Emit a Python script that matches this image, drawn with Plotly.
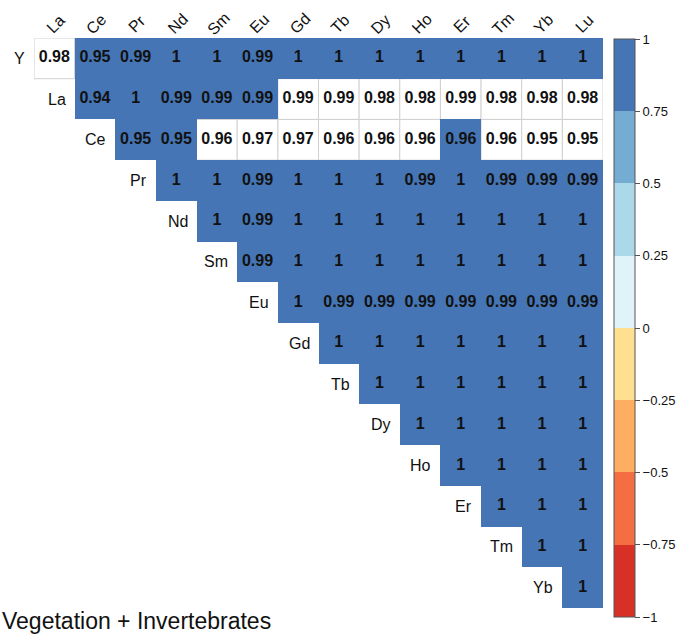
import plotly.graph_objects as go

# Correlation matrix (upper triangle) of Y and the rare earth elements
row_labels = ["Y", "La", "Ce", "Pr", "Nd", "Sm", "Eu", "Gd", "Tb", "Dy", "Ho", "Er", "Tm", "Yb"]
col_labels = ["La", "Ce", "Pr", "Nd", "Sm", "Eu", "Gd", "Tb", "Dy", "Ho", "Er", "Tm", "Yb", "Lu"]

# Each row r holds the coefficients for columns r .. Lu
corr_Y = [0.98, 0.95, 0.99, 1, 1, 0.99, 1, 1, 1, 1, 1, 1, 1, 1]
corr_La = [0.94, 1, 0.99, 0.99, 0.99, 0.99, 0.99, 0.98, 0.98, 0.99, 0.98, 0.98, 0.98]
corr_Ce = [0.95, 0.95, 0.96, 0.97, 0.97, 0.96, 0.96, 0.96, 0.96, 0.96, 0.95, 0.95]
corr_Pr = [1, 1, 0.99, 1, 1, 1, 0.99, 1, 0.99, 0.99, 0.99]
corr_Nd = [1, 0.99, 1, 1, 1, 1, 1, 1, 1, 1]
corr_Sm = [0.99, 1, 1, 1, 1, 1, 1, 1, 1]
corr_Eu = [1, 0.99, 0.99, 0.99, 0.99, 0.99, 0.99, 0.99]
corr_Gd = [1, 1, 1, 1, 1, 1, 1]
corr_Tb = [1, 1, 1, 1, 1, 1]
corr_Dy = [1, 1, 1, 1, 1]
corr_Ho = [1, 1, 1, 1]
corr_Er = [1, 1, 1]
corr_Tm = [1, 1]
corr_Yb = [1]

rows = [corr_Y, corr_La, corr_Ce, corr_Pr, corr_Nd, corr_Sm, corr_Eu,
        corr_Gd, corr_Tb, corr_Dy, corr_Ho, corr_Er, corr_Tm, corr_Yb]

# Pairs that are not significant (left uncoloured)
not_significant = [
    ("Y", "La"),
    ("La", "Gd"), ("La", "Tb"), ("La", "Dy"), ("La", "Ho"), ("La", "Er"),
    ("La", "Tm"), ("La", "Yb"), ("La", "Lu"),
    ("Ce", "Sm"), ("Ce", "Eu"), ("Ce", "Gd"), ("Ce", "Tb"), ("Ce", "Dy"),
    ("Ce", "Ho"), ("Ce", "Tm"), ("Ce", "Yb"), ("Ce", "Lu"),
]

# Colour bins (RdYlBu, 8 classes) and colour bar ticks
bin_colors = ["#D73027", "#F46D43", "#FDAE61", "#FEE090",
              "#E0F3F8", "#ABD9E9", "#74ADD1", "#4575B4"]
bar_ticks = [-1, -0.75, -0.5, -0.25, 0, 0.25, 0.5, 0.75, 1]

FONT = "Liberation Sans"
n = len(col_labels)

colorscale = []
for i, c in enumerate(bin_colors):
    colorscale.append([i / len(bin_colors), c])
    colorscale.append([(i + 1) / len(bin_colors), c])

skip = {(row_labels.index(a), col_labels.index(b)) for a, b in not_significant}

z = [[None] * n for _ in range(n)]
tx, ty, tt = [], [], []
for r, vals in enumerate(rows):
    for k, v in enumerate(vals):
        c = r + k
        if (r, c) not in skip:
            z[r][c] = v
        tx.append(c)
        ty.append(r)
        tt.append(f"{v:.2f}".rstrip("0").rstrip("."))

fig = go.Figure()

fig.add_trace(go.Heatmap(
    z=z, x=list(range(n)), y=list(range(n)),
    zmin=-1, zmax=1, colorscale=colorscale,
    hoverinfo="skip",
    colorbar=dict(
        x=614 / 681, xanchor="left", xref="paper",
        y=1 - 39 / 634, yanchor="top", yref="paper",
        lenmode="pixels", len=578,
        thicknessmode="pixels", thickness=21,
        outlinecolor="#555555", outlinewidth=1,
        tickvals=bar_ticks, ticks="outside", ticklen=5, tickcolor="#555555",
        tickprefix="\u00a0\u00a0",
        tickfont=dict(family=FONT, size=13, color="#111111"),
        xpad=0, ypad=0,
    ),
))

fig.add_trace(go.Scatter(
    x=tx, y=ty, text=tt, mode="text", hoverinfo="skip", showlegend=False,
    textfont=dict(family=FONT, size=16, color="#111111", weight="bold"),
))

shapes = []
for r, c in sorted(skip):
    shapes.append(dict(
        type="rect", xref="x", yref="y", layer="below",
        x0=c - 0.5, x1=c + 0.5, y0=r - 0.5, y1=r + 0.5,
        line=dict(color="#d0d0d0", width=1), fillcolor="white",
    ))

annotations = []
for r, lab in enumerate(row_labels):
    annotations.append(dict(
        x=r - 0.5, y=r, xref="x", yref="y", text=lab, showarrow=False,
        xanchor="right", yanchor="middle", xshift=-7,
        font=dict(family=FONT, size=16, color="#111111"),
    ))
for c, lab in enumerate(col_labels):
    annotations.append(dict(
        x=c, y=-0.5, xref="x", yref="y", text=lab, showarrow=False,
        textangle=-45, xanchor="center", yanchor="middle", yshift=14, xshift=2,
        font=dict(family=FONT, size=16, color="#111111"),
    ))
annotations.append(dict(
    x=0, y=0, xref="paper", yref="paper", xanchor="left", yanchor="bottom",
    text="Vegetation + Invertebrates", showarrow=False, yshift=-2,
    font=dict(family=FONT, size=23, color="#111111"),
))

fig.update_layout(
    width=681, height=634,
    margin=dict(l=0, r=0, t=0, b=0),
    paper_bgcolor="white", plot_bgcolor="white",
    showlegend=False,
    shapes=shapes, annotations=annotations,
    xaxis=dict(domain=[34 / 681, 603 / 681], range=[-0.5, n - 0.5],
               showgrid=False, zeroline=False, showticklabels=False, visible=False),
    yaxis=dict(domain=[1 - 608 / 634, 1 - 38 / 634], range=[n - 0.5, -0.5],
               showgrid=False, zeroline=False, showticklabels=False, visible=False),
)

fig.write_html("out.html")
